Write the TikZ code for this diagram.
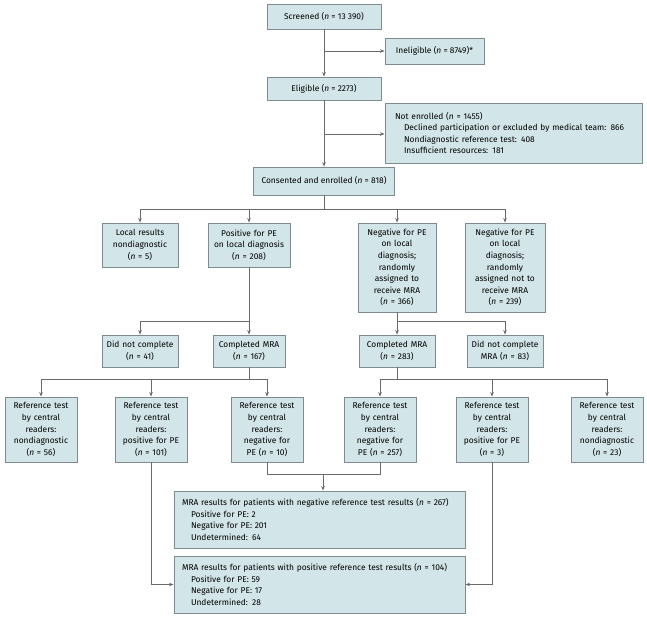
\documentclass[tikz,border=0pt]{standalone}
\usepackage{fontspec}
\setmainfont{Fira Sans}
\usetikzlibrary{arrows.meta}
\definecolor{boxfill}{HTML}{D2E5E8}
\definecolor{boxline}{HTML}{7E8B8F}
\definecolor{conn}{HTML}{6A6A6A}
\newcommand\Nv{\textit{n}}
\tikzset{
  fbox/.style={draw=boxline, fill=boxfill, line width=0.9pt, inner sep=2pt, align=center,
    font=\fontsize{8.4}{11.6}\selectfont, text=black},
  lbox/.style={fbox, align=left},
  link/.style={draw=conn, line width=0.8pt},
  arr/.style={link, -{Stealth[length=4.5pt,width=3.5pt]}},
}
\begin{document}
\begin{tikzpicture}[x=1pt,y=-1pt]
\useasboundingbox (0,0) rectangle (647,619);
% row 1
\node[fbox, minimum width=114pt, minimum height=25pt] (scr) at (324,16.5) {Screened (\Nv{} = 13 390)};
\node[fbox, minimum width=99pt, minimum height=26pt] (inel) at (434.5,51) {Ineligible (\Nv{} = 8749)*};
\node[fbox, minimum width=114pt, minimum height=23pt] (elig) at (324,88.5) {Eligible (\Nv{} = 2273)};
\node[lbox, minimum width=257pt, minimum height=60pt, text width=237pt] (noten) at (513.5,133)
  {Not enrolled (\Nv{} = 1455)\\
   \hspace*{9pt}Declined participation or excluded by medical team: 866\\
   \hspace*{9pt}Nondiagnostic reference test: 408\\
   \hspace*{9pt}Insufficient resources: 181};
\node[fbox, minimum width=141pt, minimum height=28pt] (cons) at (324,181) {Consented and enrolled (\Nv{} = 818)};
% row 3
\node[fbox, minimum width=76pt, minimum height=44pt, text width=72pt] (loc) at (140,245)
  {Local results\\nondiagnostic\\(\Nv{} = 5)};
\node[fbox, minimum width=82pt, minimum height=44pt, text width=78pt] (pos) at (249,245)
  {Positive for PE\\on local diagnosis\\(\Nv{} = 208)};
\node[fbox, minimum width=78pt, minimum height=89pt, text width=74pt] (neg1) at (397,267.5)
  {Negative for PE\\on local\\diagnosis;\\randomly\\assigned to\\receive MRA\\(\Nv{} = 366)};
\node[fbox, minimum width=80pt, minimum height=89pt, text width=76pt] (neg2) at (505,267.5)
  {Negative for PE\\on local\\diagnosis;\\randomly\\assigned not to\\receive MRA\\(\Nv{} = 239)};
% row 4
\node[fbox, minimum width=76pt, minimum height=32pt, text width=72pt] (dnc1) at (140,351)
  {Did not complete\\(\Nv{} = 41)};
\node[fbox, minimum width=72pt, minimum height=32pt, text width=68pt] (cm1) at (249,351)
  {Completed MRA\\(\Nv{} = 167)};
\node[fbox, minimum width=76pt, minimum height=32pt, text width=72pt] (cm2) at (397,351)
  {Completed MRA\\(\Nv{} = 283)};
\node[fbox, minimum width=76pt, minimum height=32pt, text width=72pt] (dnc2) at (505,351)
  {Did not complete\\MRA (\Nv{} = 83)};
% row 5
\node[fbox, minimum width=70pt, minimum height=65pt, text width=68pt] (r1) at (41,429.5)
  {Reference test\\by central\\readers:\\nondiagnostic\\(\Nv{} = 56)};
\node[fbox, minimum width=70pt, minimum height=65pt, text width=68pt] (r2) at (151,429.5)
  {Reference test\\by central\\readers:\\positive for PE\\(\Nv{} = 101)};
\node[fbox, minimum width=70pt, minimum height=65pt, text width=68pt] (r3) at (267,429.5)
  {Reference test\\by central\\readers:\\negative for\\PE (\Nv{} = 10)};
\node[fbox, minimum width=70pt, minimum height=65pt, text width=68pt] (r4) at (380,429.5)
  {Reference test\\by central\\readers:\\negative for\\PE (\Nv{} = 257)};
\node[fbox, minimum width=70pt, minimum height=65pt, text width=68pt] (r5) at (492,429.5)
  {Reference test\\by central\\readers:\\positive for PE\\(\Nv{} = 3)};
\node[fbox, minimum width=70pt, minimum height=65pt, text width=68pt] (r6) at (607,429.5)
  {Reference test\\by central\\readers:\\nondiagnostic\\(\Nv{} = 23)};
% bottom
\node[lbox, minimum width=291pt, minimum height=57pt, text width=275pt] (mneg) at (319.5,519.5)
  {MRA results for patients with negative reference test results (\Nv{} = 267)\\
   \hspace*{9pt}Positive for PE: 2\\
   \hspace*{9pt}Negative for PE: 201\\
   \hspace*{9pt}Undetermined: 64};
\node[lbox, minimum width=291pt, minimum height=57pt, text width=275pt] (mpos) at (319.5,584.5)
  {MRA results for patients with positive reference test results (\Nv{} = 104)\\
   \hspace*{9pt}Positive for PE: 59\\
   \hspace*{9pt}Negative for PE: 17\\
   \hspace*{9pt}Undetermined: 28};
% junction coordinates
\coordinate (ja) at (324,51);
\coordinate (jb) at (324,134);
\coordinate (j1) at (324,209);
\coordinate (j2) at (249,321);
\coordinate (j3) at (397,321);
\coordinate (j4) at (249,379);
\coordinate (j5) at (397,379);
\coordinate (j6) at (323,474);
% connectors
\draw[arr] (scr.south) -- (elig.north);
\draw[arr] (ja) -- (inel.west);
\draw[arr] (elig.south) -- (cons.north);
\draw[arr] (jb) -- (noten.west |- jb);
\draw[link] (cons.south) -- (j1);
\draw[arr] (j1) -| (loc.north);
\draw[arr] (j1) -| (pos.north);
\draw[arr] (j1) -| (neg1.north);
\draw[arr] (j1) -| (neg2.north);
\draw[link] (pos.south) -- (j2);
\draw[arr] (j2) -| (dnc1.north);
\draw[arr] (j2) -- (cm1.north);
\draw[link] (neg1.south) -- (j3);
\draw[arr] (j3) -- (cm2.north);
\draw[arr] (j3) -| (dnc2.north);
\draw[link] (cm1.south) -- (j4);
\draw[arr] (j4) -| (r1.north);
\draw[arr] (j4) -| (r2.north);
\draw[arr] (j4) -| (r3.north);
\draw[link] (cm2.south) -- (j5);
\draw[arr] (j5) -| (r4.north);
\draw[arr] (j5) -| (r5.north);
\draw[arr] (j5) -| (r6.north);
\draw[link] (r3.south) |- (j6) -| (r4.south);
\draw[arr] (j6) -- (j6 |- mneg.north);
\draw[arr] (r2.south) |- (mpos.west);
\draw[arr] (r5.south) |- (mpos.east);
\end{tikzpicture}
\end{document}
